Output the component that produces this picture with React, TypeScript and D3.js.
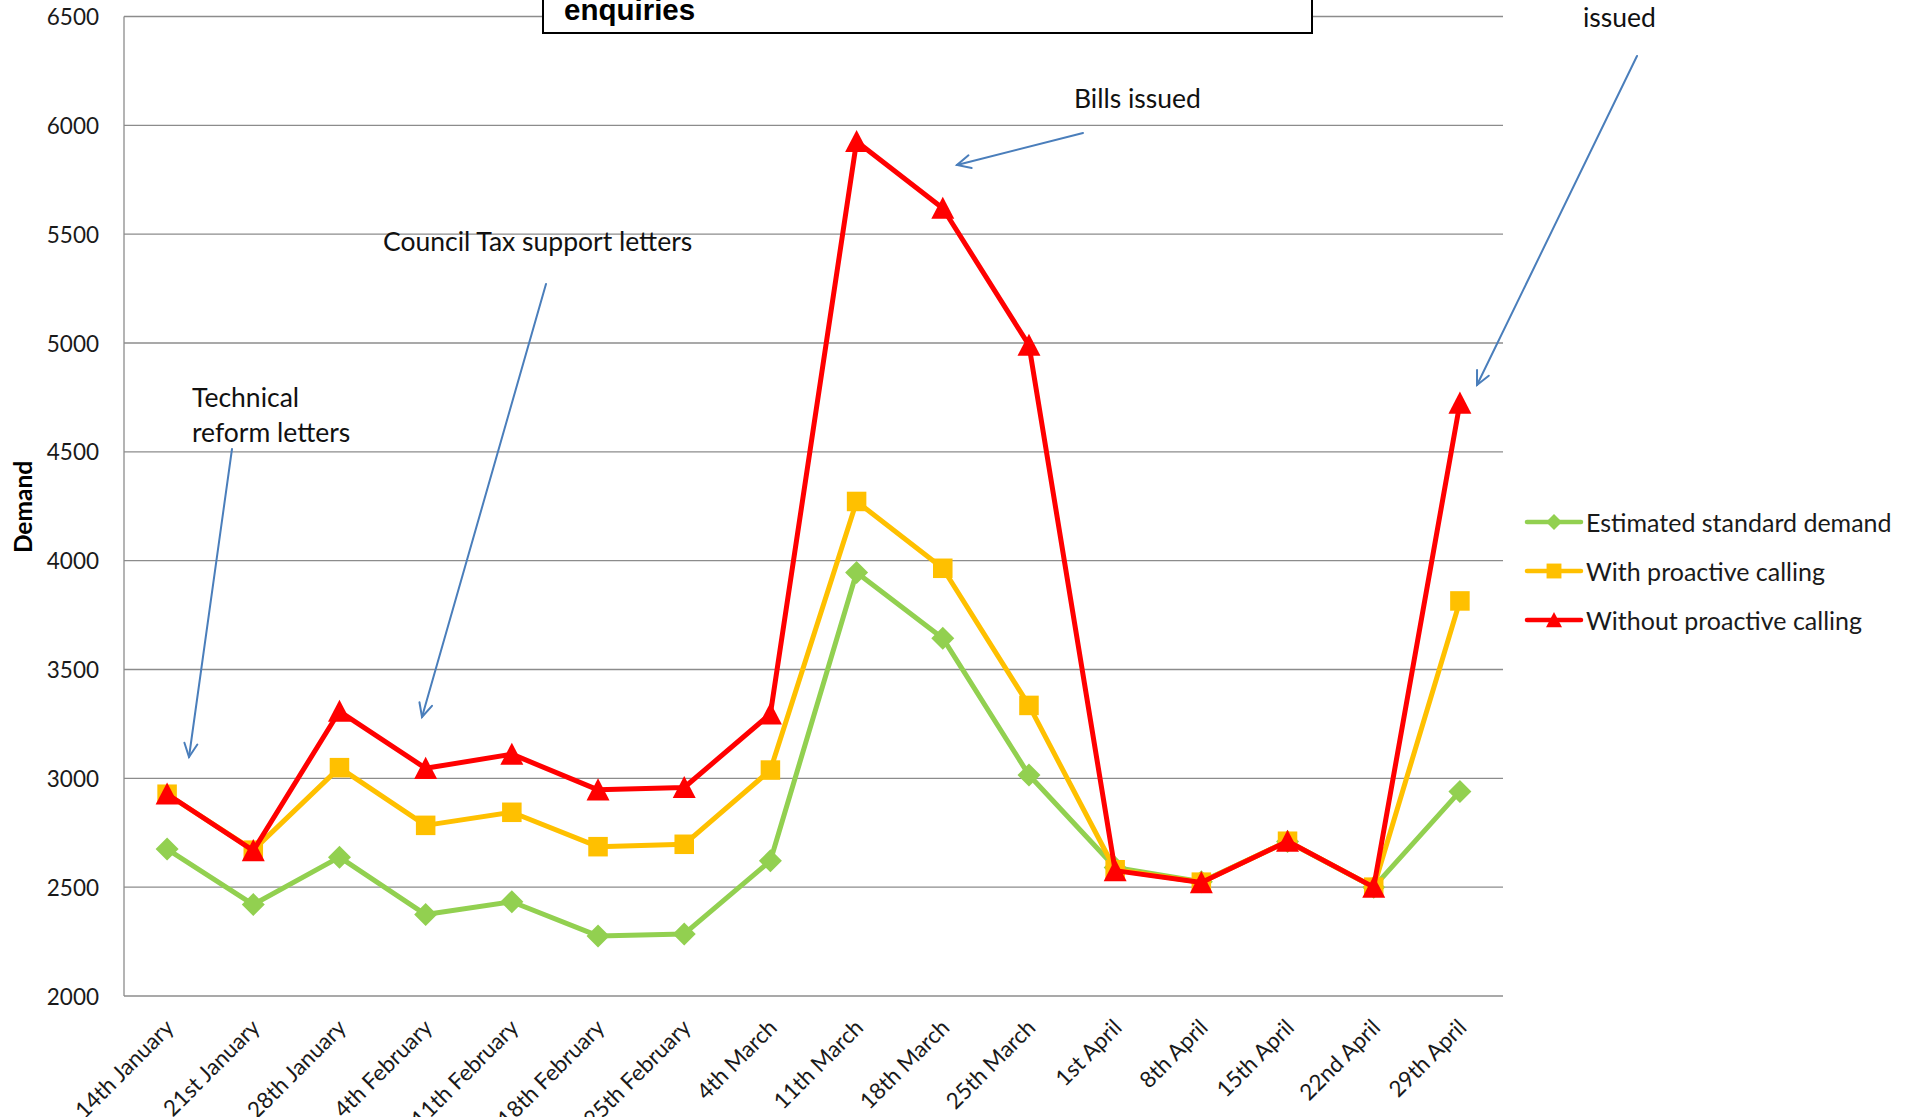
import * as d3 from 'd3';

const W = 1914, H = 1117;
const PLOT = { left: 124, right: 1503, top: 16.5, bottom: 996 };

const CATEGORIES = [
  '14th January', '21st January', '28th January', '4th February', '11th February',
  '18th February', '25th February', '4th March', '11th March', '18th March',
  '25th March', '1st April', '8th April', '15th April', '22nd April', '29th April',
];
const STANDARD = [2675, 2420, 2638, 2374, 2433, 2276, 2285, 2621, 3946, 3644, 3015, 2590, 2525, 2710, 2500, 2940];
const WITH_CALLING = [2927, 2670, 3049, 2784, 2844, 2686, 2697, 3038, 4272, 3965, 3335, 2580, 2523, 2711, 2500, 3815];
const WITHOUT_CALLING = [2928, 2668, 3308, 3046, 3111, 2947, 2958, 3296, 5926, 5619, 4990, 2576, 2521, 2711, 2500, 4724];
const Y_TICKS = [2000, 2500, 3000, 3500, 4000, 4500, 5000, 5500, 6000, 6500];

const SERIES = [
  { name: 'Estimated standard demand', values: STANDARD, color: '#92D050', marker: 'diamond' },
  { name: 'With proactive calling', values: WITH_CALLING, color: '#FFC000', marker: 'square' },
  { name: 'Without proactive calling', values: WITHOUT_CALLING, color: '#FF0000', marker: 'triangle' },
];

const FONT = 'Lato, "Open Sans", sans-serif';
const ARROW = '#4A7EBB';
const NOTE_SIZE = 26.5;

// marker outline centred on 0,0; s = overall size in px
function markerPath(kind: string, s: number) {
  const h = s / 2;
  if (kind === 'diamond') return `M0,${-h}L${h},0L0,${h}L${-h},0Z`;
  if (kind === 'square') return `M${-h * 0.93},${-h * 0.93}h${s * 0.93}v${s * 0.93}h${-s * 0.93}Z`;
  return `M0,${-h}L${h},${h * 0.92}L${-h},${h * 0.92}Z`;
}

// open "V" arrow head at (x2,y2)
function Arrow({ x1, y1, x2, y2 }: { x1: number; y1: number; x2: number; y2: number }) {
  const a = Math.atan2(y2 - y1, x2 - x1);
  const len = 15, spread = 0.45;
  const p1 = [x2 - len * Math.cos(a - spread), y2 - len * Math.sin(a - spread)];
  const p2 = [x2 - len * Math.cos(a + spread), y2 - len * Math.sin(a + spread)];
  return (
    <g stroke={ARROW} strokeWidth={2} fill="none" strokeLinecap="round">
      <line x1={x1} y1={y1} x2={x2} y2={y2} />
      <path d={`M${p1[0]},${p1[1]}L${x2},${y2}L${p2[0]},${p2[1]}`} />
    </g>
  );
}

export default function App() {
  const x = d3.scaleBand<string>().domain(CATEGORIES).range([PLOT.left, PLOT.right]);
  const cx = (c: string) => (x(c) ?? 0) + x.bandwidth() / 2;
  const y = d3.scaleLinear().domain([2000, 6500]).range([PLOT.bottom, PLOT.top]);
  const line = d3.line<number>().x((_, i) => cx(CATEGORIES[i])).y(v => y(v));

  const legendY = [522, 571, 620];

  return (
    <svg width={W} height={H} viewBox={`0 0 ${W} ${H}`}
      style={{ position: 'absolute', left: 0, top: 0, background: '#fff' }} fontFamily={FONT}>
      {/* grid */}
      {Y_TICKS.map(t => (
        <line key={t} x1={PLOT.left} x2={PLOT.right} y1={y(t)} y2={y(t)} stroke="#8c8c8c" strokeWidth={1.3} />
      ))}
      <line x1={PLOT.left} x2={PLOT.left} y1={PLOT.top} y2={PLOT.bottom} stroke="#8c8c8c" strokeWidth={1.3} />
      {Y_TICKS.map(t => (
        <text key={t} x={99} y={y(t)} textAnchor="end" dominantBaseline="central" fontSize={22.5} fill="#1a1a1a">{t}</text>
      ))}
      <text transform={`translate(22,507) rotate(-90)`} textAnchor="middle" dominantBaseline="central"
        fontSize={24.5} fontWeight={700} fill="#000">Demand</text>

      {CATEGORIES.map(c => (
        <text key={c} transform={`translate(${cx(c) + 2},${PLOT.bottom + 27}) rotate(-45)`} textAnchor="end"
          dominantBaseline="central" fontSize={22.5} fill="#1a1a1a">{c}</text>
      ))}

      {/* series */}
      {SERIES.map(s => (
        <g key={s.name}>
          <path d={line(s.values) ?? ''} fill="none" stroke={s.color} strokeWidth={5} strokeLinejoin="round" />
          {s.values.map((v, i) => (
            <path key={i} transform={`translate(${cx(CATEGORIES[i])},${y(v)})`}
              d={markerPath(s.marker, s.marker === 'square' ? 21 : 23)} fill={s.color} />
          ))}
        </g>
      ))}

      {/* legend */}
      {SERIES.map((s, k) => (
        <g key={s.name} transform={`translate(0,${legendY[k]})`}>
          <line x1={1527} x2={1581} y1={0} y2={0} stroke={s.color} strokeWidth={4.5} strokeLinecap="round" />
          <path transform="translate(1554,0)" d={markerPath(s.marker, 16)} fill={s.color} />
          <text x={1586} y={0} dominantBaseline="central" fontSize={25} fill="#1a1a1a">{s.name}</text>
        </g>
      ))}

      {/* title box, cut by the top edge */}
      <rect x={543} y={-60} width={769} height={93} fill="#fff" stroke="#000" strokeWidth={2} />
      <text x={564} y={20} fontFamily='"Liberation Sans", Arial, sans-serif' fontWeight={700} fontSize={29.5} fill="#000">enquiries</text>

      {/* annotations */}
      <text x={192} y={407} fontSize={NOTE_SIZE} fill="#111">Technical</text>
      <text x={192} y={442} fontSize={NOTE_SIZE} fill="#111">reform letters</text>
      <Arrow x1={232} y1={449} x2={189} y2={757} />

      <text x={383} y={251} fontSize={NOTE_SIZE} fill="#111">Council Tax support letters</text>
      <Arrow x1={546} y1={284} x2={422} y2={717} />

      <text x={1074} y={108} fontSize={NOTE_SIZE} fill="#111">Bills issued</text>
      <Arrow x1={1083} y1={133} x2={957} y2={165} />

      <text x={1583} y={27} fontSize={NOTE_SIZE} fill="#111">issued</text>
      <Arrow x1={1637} y1={56} x2={1477} y2={385} />
    </svg>
  );
}
